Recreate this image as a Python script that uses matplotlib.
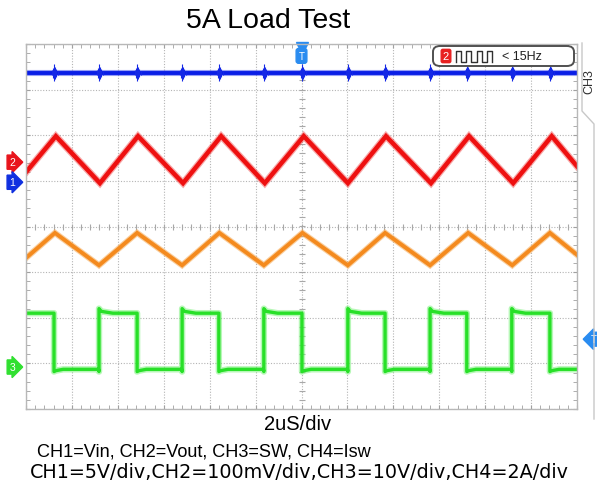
import numpy as np
import matplotlib
matplotlib.use("Agg")
import matplotlib.pyplot as plt
from matplotlib.ticker import MultipleLocator
from matplotlib.patches import FancyBboxPatch

plt.rcParams['font.family'] = ['Liberation Sans', 'DejaVu Sans']

# time axis in divisions (2us/div), vertical axis in divisions
# CH2 (Vout, red) triangle vertices
red_peak_t = [0.65, 2.44, 4.25, 6.05, 7.84, 9.65, 11.45]
red_trough_t = [1.61, 3.42, 5.20, 7.01, 8.82, 10.61]
red_peak_v = 1.98
red_trough_v = 0.95
red_start_v = 1.19
red_end_v = 1.32

# CH4 (Isw, orange) triangle vertices
org_peak_t = [0.63, 2.42, 4.21, 6.02, 7.82, 9.63, 11.41]
org_trough_t = [1.59, 3.40, 5.18, 7.01, 8.80, 10.59]
org_peak_v = -0.14
org_trough_v = -0.85
org_start_v = -0.69
org_end_v = -0.62

# CH3 (SW, green) square wave edges
sw_fall_t = [0.61, 2.42, 4.20, 6.01, 7.82, 9.60, 11.41]
sw_rise_t = [1.59, 3.40, 5.18, 7.01, 8.80, 10.58]
sw_high = -1.90
sw_low = -3.13
sw_overshoot = 0.10

# CH1 (Vin, blue) level with switching spikes
vin_level = 3.36
burst_dt = [-0.05, -0.025, 0.0, 0.025, 0.05, 0.08]
burst_up = [0.06, 0.12, 0.20, 0.14, 0.09, 0.05]
burst_dn = [0.05, 0.10, 0.16, 0.12, 0.08, 0.04]

marker_levels = {'2': (1.41, '#e8141c'), '1': (0.97, '#1030e0'), '3': (-3.08, '#30e030')}


def tri(start_v, peaks, troughs, pv, tv, end_v):
    pts = sorted([(t, pv) for t in peaks] + [(t, tv) for t in troughs])
    xs = [0.0] + [p[0] for p in pts] + [12.0]
    ys = [start_v] + [p[1] for p in pts] + [end_v]
    return xs, ys


fig = plt.figure(figsize=(5.97, 4.89), dpi=100)
ax = fig.add_axes([26 / 597, 1 - 410 / 489, 551 / 597, 365 / 489])
ax.set_xlim(0, 12)
ax.set_ylim(-4, 4)

ax.xaxis.set_major_locator(MultipleLocator(1))
ax.yaxis.set_major_locator(MultipleLocator(1))
ax.xaxis.set_minor_locator(MultipleLocator(0.2))
ax.yaxis.set_minor_locator(MultipleLocator(0.2))
ax.tick_params(which='both', direction='in', length=3, color='#a0a0a0',
               top=True, right=True, labelbottom=False, labelleft=False)
ax.grid(True, which='major', color='#b4b4b4', linestyle=(0, (1, 1.5)), linewidth=0.8)
for s in ax.spines.values():
    s.set_color('#b8b8b8')
    s.set_linewidth(1.0)

# center cross with minor ticks
tk = np.arange(0.2, 12, 0.2)
ax.plot(tk, np.zeros_like(tk), linestyle='none', marker='|', ms=5, color='#a8a8a8', mew=0.8)
tk = np.arange(-3.8, 4, 0.2)
ax.plot(np.full_like(tk, 6.0), tk, linestyle='none', marker='_', ms=5, color='#a8a8a8', mew=0.8)

# blue CH1
ax.plot([0, 12], [vin_level, vin_level], color='#3040ee', lw=4.4, solid_capstyle='butt', alpha=0.5)
ax.plot([0, 12], [vin_level, vin_level], color='#0a1ee6', lw=2.8, solid_capstyle='butt')
spikes = sorted(sw_fall_t + sw_rise_t)
for dt, up, dn in zip(burst_dt, burst_up, burst_dn):
    ax.vlines(np.array(spikes) + dt, vin_level - dn, vin_level + up, color='#1428e6', lw=0.8)

# red CH2
xs, ys = tri(red_start_v, red_peak_t, red_trough_t, red_peak_v, red_trough_v, red_end_v)
ax.plot(xs, ys, color='#f04040', lw=5.0, alpha=0.45, solid_joinstyle='miter')
ax.plot(xs, ys, color='#ee1010', lw=3.2, solid_joinstyle='miter')

# orange CH4
xs, ys = tri(org_start_v, org_peak_t, org_trough_t, org_peak_v, org_trough_v, org_end_v)
ax.plot(xs, ys, color='#f5a040', lw=4.4, alpha=0.5, solid_joinstyle='miter')
ax.plot(xs, ys, color='#f48a1e', lw=2.8, solid_joinstyle='miter')

# green CH3
gx, gy = [0.0], [sw_high]
edges = sorted([(t, 'f') for t in sw_fall_t] + [(t, 'r') for t in sw_rise_t])
for t, kind in edges:
    if kind == 'f':
        gx += [t, t, t + 0.04, t + 0.2]
        gy += [sw_high, sw_low - 0.05, sw_low - 0.03, sw_low]
    else:
        gx += [t - 0.01, t, t, t + 0.05, t + 0.3]
        gy += [sw_low, sw_low - 0.05, sw_high + sw_overshoot, sw_high + 0.04, sw_high]
gx.append(12.0)
gy.append(sw_low)
ax.plot(gx, gy, color='#70f070', lw=4.6, alpha=0.5)
ax.plot(gx, gy, color='#28e028', lw=2.4)

# channel tags on the left
for lab, (lv, col) in marker_levels.items():
    ax.annotate(lab, xy=(0, lv), xycoords='data', xytext=(-10, 0), textcoords='offset points',
                ha='center', va='center', fontsize=7.5, color='white', annotation_clip=False,
                bbox=dict(boxstyle='rarrow,pad=0.2', fc=col, ec=col))

# trigger markers
ax.annotate('T', xy=(6.0, 3.74), xycoords='data', ha='center', va='center', fontsize=7,
            color='white', annotation_clip=False,
            bbox=dict(boxstyle='round,pad=0.25', fc='#2a8cf0', ec='#2a8cf0'))
ax.plot([6.0], [3.92], marker='v', ms=8, color='#2a8cf0', clip_on=False)
ax.annotate('T', xy=(12, -2.47), xycoords='data', xytext=(12, 0), textcoords='offset points',
            ha='center', va='center', fontsize=7, color='white', annotation_clip=False,
            bbox=dict(boxstyle='larrow,pad=0.2', fc='#2a8cf0', ec='#2a8cf0'))


# trigger info box top right (figure pixel coordinates)
def fx(px):
    return px / 597


def fy(py):
    return 1 - py / 489


fig.add_artist(FancyBboxPatch((fx(433), fy(67)), fx(141), 20 / 489,
                              boxstyle='round,pad=0,rounding_size=0.012',
                              fc='white', ec='#505050', lw=1.4, transform=fig.transFigure))
fig.text(fx(446), fy(57), '2', fontsize=8, ha='center', va='center', color='white',
         bbox=dict(boxstyle='round,pad=0.15', fc='#e82020', ec='#e82020'))
wave_x = fx(456) + np.repeat(np.arange(0, 8) * (fx(492) - fx(456)) / 7, 2)
wave_y = fy(63) + np.tile([0, 11 / 489, 11 / 489, 0], 4)
fig.add_artist(plt.Line2D(wave_x, wave_y, color='#303030', lw=1.0, transform=fig.transFigure))
fig.text(fx(502), fy(57), '< 15Hz', fontsize=9, ha='left', va='center', color='#202020')

# right side panel
fig.add_artist(plt.Line2D([fx(582), fx(582), fx(594), fx(594)],
                          [fy(44), fy(112), fy(125), fy(420)],
                          color='#c8c8c8', lw=1.0))
fig.text(fx(589), fy(82), 'CH3', rotation=90, fontsize=9, ha='center', va='center', color='#303030')

fig.text(fx(268), fy(21), '5A Load Test', fontsize=20.5, ha='center', va='center')
fig.text(fx(298), fy(425), '2uS/div', fontsize=14.5, ha='center', va='center')
fig.text(fx(37), fy(452), 'CH1=Vin, CH2=Vout, CH3=SW, CH4=Isw', fontsize=13.1, ha='left', va='center')
fig.text(fx(30), fy(473), 'CH1=5V/div,CH2=100mV/div,CH3=10V/div,CH4=2A/div', fontsize=13.8,
         ha='left', va='center', family=['DejaVu Sans'])

fig.savefig('out.png', dpi=100)
